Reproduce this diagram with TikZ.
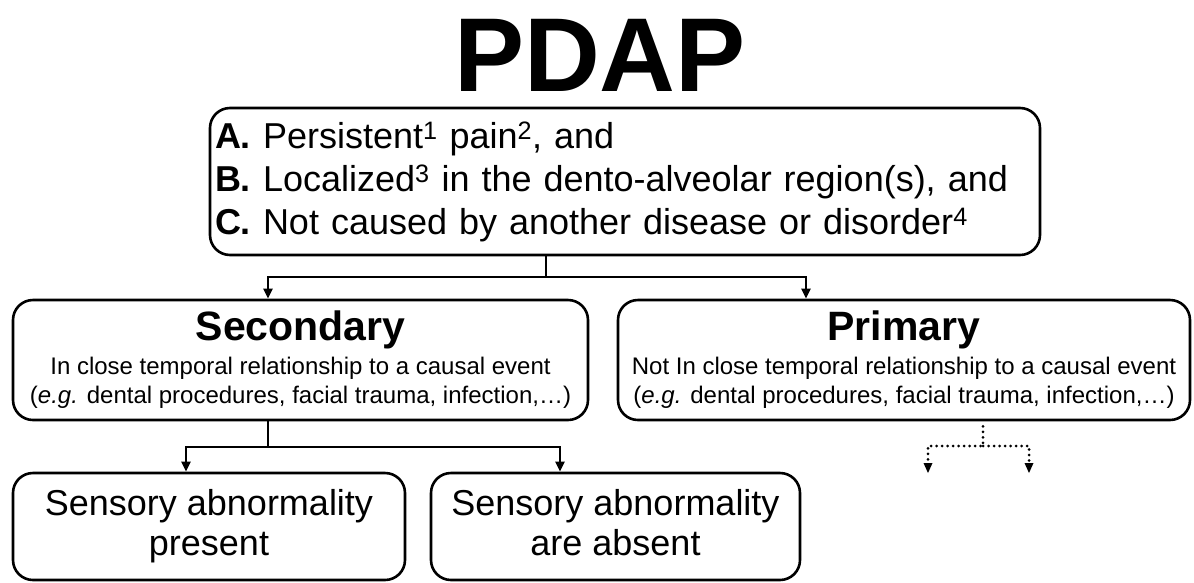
\documentclass[tikz,border=0pt]{standalone}
\usepackage{fontspec}
\setmainfont{Liberation Sans}
\usetikzlibrary{positioning, arrows.meta}

\begin{document}
\begin{tikzpicture}[x=1pt, y=-1pt,
    box/.style={draw, line width=2.6pt, rounded corners=20pt, inner sep=0pt},
    line/.style={line width=2.4pt},
    link/.style={line width=2.4pt, -{Triangle[width=9pt,length=10pt]}},
    maybe/.style={line width=3pt, line cap=round, dash pattern=on 0pt off 5.5pt}]
        \useasboundingbox (0,0) rectangle (1194,582);
        \node (title) at (600,55) {\fontsize{105}{110}\selectfont\bfseries PDAP};
        % criteria
        \node[box, minimum width=830pt, minimum height=147pt, text width=820pt, align=left,
              font=\fontsize{36}{43}\selectfont] (pdap) at (625,181.5)
            {\textbf{A.} Persistent\textsuperscript{1} pain\textsuperscript{2}, and\\
             \textbf{B.} Localized\textsuperscript{3} in the dento-alveolar region(s), and\\
             \textbf{C.} Not caused by another disease or disorder\textsuperscript{4}};
        % 1st layer
        \node[box, minimum width=575pt, minimum height=120pt, align=center,
              font=\fontsize{24}{29}\selectfont] (sec) at (300.5,360)
            {{\fontsize{41}{44}\selectfont\bfseries Secondary}\\[5pt]
             In close temporal relationship to a causal event\\
             (\textit{e.g.} dental procedures, facial trauma, infection,\dots)};
        \node[box, minimum width=572pt, minimum height=120pt, align=center,
              font=\fontsize{24}{29}\selectfont] (prim) at (904,360)
            {{\fontsize{41}{44}\selectfont\bfseries Primary}\\[5pt]
             Not In close temporal relationship to a causal event\\
             (\textit{e.g.} dental procedures, facial trauma, infection,\dots)};
        % 2nd layer
        \node[box, minimum width=392pt, minimum height=107pt, align=center,
              font=\fontsize{36}{40}\selectfont] (present) at (209,526.5)
            {Sensory abnormality\\present};
        \node[box, minimum width=369pt, minimum height=107pt, align=center,
              font=\fontsize{36}{40}\selectfont] (absent) at (615.5,526.5)
            {Sensory abnormality\\are absent\vphantom{p}};

        % connectors
        \coordinate (fork) at (546,277);
        \draw[line] (pdap.south -| fork) -- (fork);
        \draw[link] (fork) -| ([xshift=-32.5pt]sec.north);
        \draw[link] (fork) -| ([xshift=-98pt]prim.north);
        \coordinate (fork2) at (268,447);
        \draw[line] (sec.south -| fork2) -- (fork2);
        \draw[link] (fork2) -| ([xshift=-23pt]present.north);
        \draw[link] (fork2) -| ([xshift=-55.5pt]absent.north);
        % not yet known
        \coordinate (fork3) at (983,446);
        \coordinate (next1) at (928,463);
        \coordinate (next2) at (1029,463);
        \draw[maybe] (prim.south -| fork3) ++(0,5) -- (fork3) -| (next1);
        \draw[maybe] (fork3) -| (next2);
        \fill ([xshift=-4.5pt]next1) -- ([xshift=4.5pt]next1) -- ([yshift=-10pt]next1) -- cycle;
        \fill ([xshift=-4.5pt]next2) -- ([xshift=4.5pt]next2) -- ([yshift=-10pt]next2) -- cycle;
\end{tikzpicture}
\end{document}
